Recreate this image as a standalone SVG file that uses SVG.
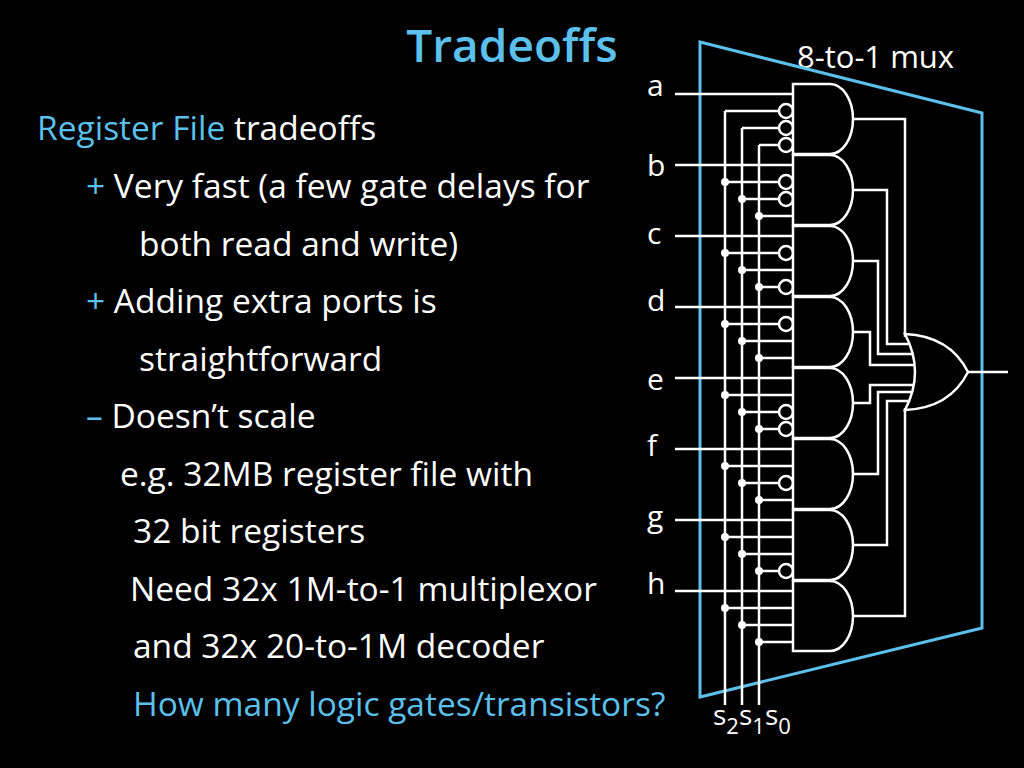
<svg xmlns="http://www.w3.org/2000/svg" width="1024" height="768" viewBox="0 0 1024 768">
<style>
.t{font-family:"Open Sans","Noto Sans",sans-serif;font-size:33.5px;fill:#fff}
.b{fill:#5bc0eb}
.w{stroke:#fff;stroke-width:2.5;fill:none}
.g{stroke:#fff;stroke-width:2.5;fill:#000}
.d{fill:#fff}
</style>
<rect width="1024" height="768" fill="#000"/>
<g id="text">
<text x="512" y="62" text-anchor="middle" class="t b" style="font-size:46px;font-weight:600">Tradeoffs</text>
<text x="37" y="140" class="t"><tspan class="b">Register File</tspan> tradeoffs</text>
<text x="86" y="198" class="t"><tspan class="b">+</tspan> Very fast (a few gate delays for</text>
<text x="139" y="256" class="t">both read and write)</text>
<text x="86" y="313" class="t"><tspan class="b">+</tspan> Adding extra ports is</text>
<text x="139" y="371" class="t">straightforward</text>
<text x="86" y="428" class="t"><tspan class="b">–</tspan> Doesn’t scale</text>
<text x="120" y="486" class="t">e.g. 32MB register file with</text>
<text x="133" y="543" class="t">32 bit registers</text>
<text x="130" y="601" class="t">Need 32x 1M-to-1 multiplexor</text>
<text x="133" y="658" class="t">and 32x 20-to-1M decoder</text>
<text x="133" y="716" class="t b">How many logic gates/transistors?</text>
<text x="797" y="68" class="t" style="font-size:31px">8-to-1 mux</text>
<text x="647" y="96" class="t" style="font-size:30px">a</text>
<text x="647" y="176" class="t" style="font-size:30px">b</text>
<text x="647" y="244" class="t" style="font-size:30px">c</text>
<text x="647" y="311" class="t" style="font-size:30px">d</text>
<text x="647" y="390" class="t" style="font-size:30px">e</text>
<text x="647" y="456" class="t" style="font-size:30px">f</text>
<text x="647" y="527" class="t" style="font-size:30px">g</text>
<text x="647" y="594" class="t" style="font-size:30px">h</text>
<text x="713" y="725" class="t" style="font-size:28px">s<tspan dy="9" style="font-size:22px">2</tspan><tspan dy="-9">s</tspan><tspan dy="9" style="font-size:22px">1</tspan><tspan dy="-9">s</tspan><tspan dy="9" style="font-size:22px">0</tspan></text>
</g>
<polygon id="mux" points="700,42 982,113 982,628 700,697" fill="none" stroke="#5bc0eb" stroke-width="3"/>
<g id="connectors" class="w">
<path d="M675 94H793M675 165H793M675 236H793M675 307H793M675 378H793M675 449H793M675 520H793M675 591H793"/>
<path d="M725 111V705M742 128V705M759 145V705"/>
<path d="M725 111H779M742 128H779M759 145H779"/>
<path d="M725 182H779M742 199H779M759 216H793"/>
<path d="M725 253H779M742 270H793M759 287H779"/>
<path d="M725 324H779M742 341H793M759 358H793"/>
<path d="M725 395H793M742 412H779M759 429H779"/>
<path d="M725 466H793M742 483H779M759 500H793"/>
<path d="M725 537H793M742 554H793M759 571H779"/>
<path d="M725 608H793M742 625H793M759 642H793"/>
<path d="M853 119H905V337M853 190H887V344H912M853 261H878V354H915M853 332H870V365H917M853 403H870V385H917M853 474H878V392H916M853 545H887V401H914M853 616H905V408M968 372H1008"/>
</g>
<g id="dots" class="d">
<circle cx="725" cy="182" r="4"/><circle cx="742" cy="199" r="4"/><circle cx="759" cy="216" r="4"/>
<circle cx="725" cy="253" r="4"/><circle cx="742" cy="270" r="4"/><circle cx="759" cy="287" r="4"/>
<circle cx="725" cy="324" r="4"/><circle cx="742" cy="341" r="4"/><circle cx="759" cy="358" r="4"/>
<circle cx="725" cy="395" r="4"/><circle cx="742" cy="412" r="4"/><circle cx="759" cy="429" r="4"/>
<circle cx="725" cy="466" r="4"/><circle cx="742" cy="483" r="4"/><circle cx="759" cy="500" r="4"/>
<circle cx="725" cy="537" r="4"/><circle cx="742" cy="554" r="4"/><circle cx="759" cy="571" r="4"/>
<circle cx="725" cy="608" r="4"/><circle cx="742" cy="625" r="4"/><circle cx="759" cy="642" r="4"/>
</g>
<g id="bubbles" class="g">
<circle cx="786" cy="111" r="7"/><circle cx="786" cy="128" r="7"/><circle cx="786" cy="145" r="7"/>
<circle cx="786" cy="182" r="7"/><circle cx="786" cy="199" r="7"/>
<circle cx="786" cy="253" r="7"/><circle cx="786" cy="287" r="7"/>
<circle cx="786" cy="324" r="7"/>
<circle cx="786" cy="412" r="7"/><circle cx="786" cy="429" r="7"/>
<circle cx="786" cy="483" r="7"/>
<circle cx="786" cy="571" r="7"/>
</g>
<g class="g">
<path id="and0" d="M793 84h37a23 35 0 0 1 0 70h-37z"/>
<path id="and1" d="M793 155h37a23 35 0 0 1 0 70h-37z"/>
<path id="and2" d="M793 226h37a23 35 0 0 1 0 70h-37z"/>
<path id="and3" d="M793 297h37a23 35 0 0 1 0 70h-37z"/>
<path id="and4" d="M793 368h37a23 35 0 0 1 0 70h-37z"/>
<path id="and5" d="M793 439h37a23 35 0 0 1 0 70h-37z"/>
<path id="and6" d="M793 510h37a23 35 0 0 1 0 70h-37z"/>
<path id="and7" d="M793 581h37a23 35 0 0 1 0 70h-37z"/>
<path id="or" d="M905 334Q950 336 968 372Q950 408 905 410Q925 372 905 334z"/>
</g>
</svg>
